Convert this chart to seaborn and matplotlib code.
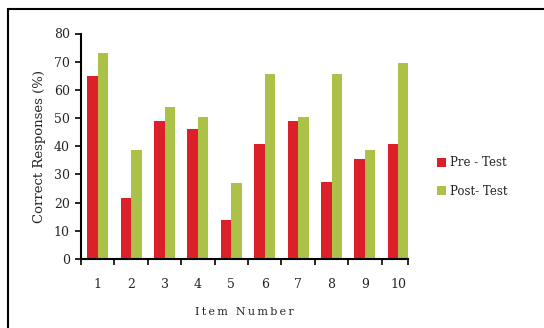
import matplotlib
matplotlib.use("Agg")
import matplotlib.pyplot as plt
from matplotlib.patches import Rectangle, Patch
from matplotlib.ticker import FixedLocator
import seaborn as sns
import pandas as pd
import numpy as np

items = ["1", "2", "3", "4", "5", "6", "7", "8", "9", "10"]
pre_test = [65.0, 21.7, 48.9, 46.1, 13.7, 40.8, 48.9, 27.3, 35.3, 40.8]
post_test = [73.2, 38.5, 54.0, 50.2, 27.1, 65.5, 50.2, 65.5, 38.5, 69.6]
series_names = ["Pre - Test", "Post- Test"]
colors = ["#DC2029", "#ABC148"]

df = pd.DataFrame({
    "Item": items * 2,
    "Score": pre_test + post_test,
    "Test": [series_names[0]] * len(items) + [series_names[1]] * len(items),
})

sns.set_theme(style="white")
plt.rcParams["font.family"] = ["DejaVu Serif"]

fig = plt.figure(figsize=(5.44, 3.28), dpi=100)
ax = fig.add_axes([81 / 544, 1 - 259 / 328, (408 - 81) / 544, (259 - 33.5) / 328])

sns.barplot(data=df, x="Item", y="Score", hue="Test", palette=colors,
            width=0.63, saturation=1, ax=ax, legend=False, edgecolor="none")

ax.set_ylim(0, 80)
ax.set_xlim(-0.5, 9.29)
ax.set_yticks(np.arange(0, 81, 10))
ax.tick_params(axis="y", direction="out", length=4, width=1.2, color="black",
               labelsize=9, pad=4, left=True)
ax.tick_params(axis="x", which="major", length=0, labelsize=9, pad=14)
ax.xaxis.set_minor_locator(FixedLocator(list(np.arange(-0.5, 9.0, 1.0)) + [9.29]))
ax.tick_params(axis="x", which="minor", direction="out", length=4, width=1.2,
               color="black", bottom=True)

for side in ["top", "right"]:
    ax.spines[side].set_visible(False)
for side in ["left", "bottom"]:
    ax.spines[side].set_color("black")
    ax.spines[side].set_linewidth(1.5)

ax.set_ylabel("Correct Responses (%)", fontsize=9.5, labelpad=6)
ax.set_xlabel("\u2009".join("Item Number"), fontsize=8, labelpad=11)

handles = [Patch(facecolor=c, edgecolor="none") for c in colors]
fig.legend(handles, series_names, loc="center left",
           bbox_to_anchor=(432 / 544, 1 - 177 / 328), frameon=False,
           fontsize=8.5, handlelength=0.8, handleheight=0.8, handletextpad=0.3,
           labelspacing=1.3, borderaxespad=0)

# outer frame around the figure content
fig.patches.append(Rectangle((8 / 544, -0.1), 1.2, 1 - 9 / 328 + 0.1,
                             transform=fig.transFigure, fill=False,
                             edgecolor="black", linewidth=1.5))

fig.savefig("out.png", dpi=100)
